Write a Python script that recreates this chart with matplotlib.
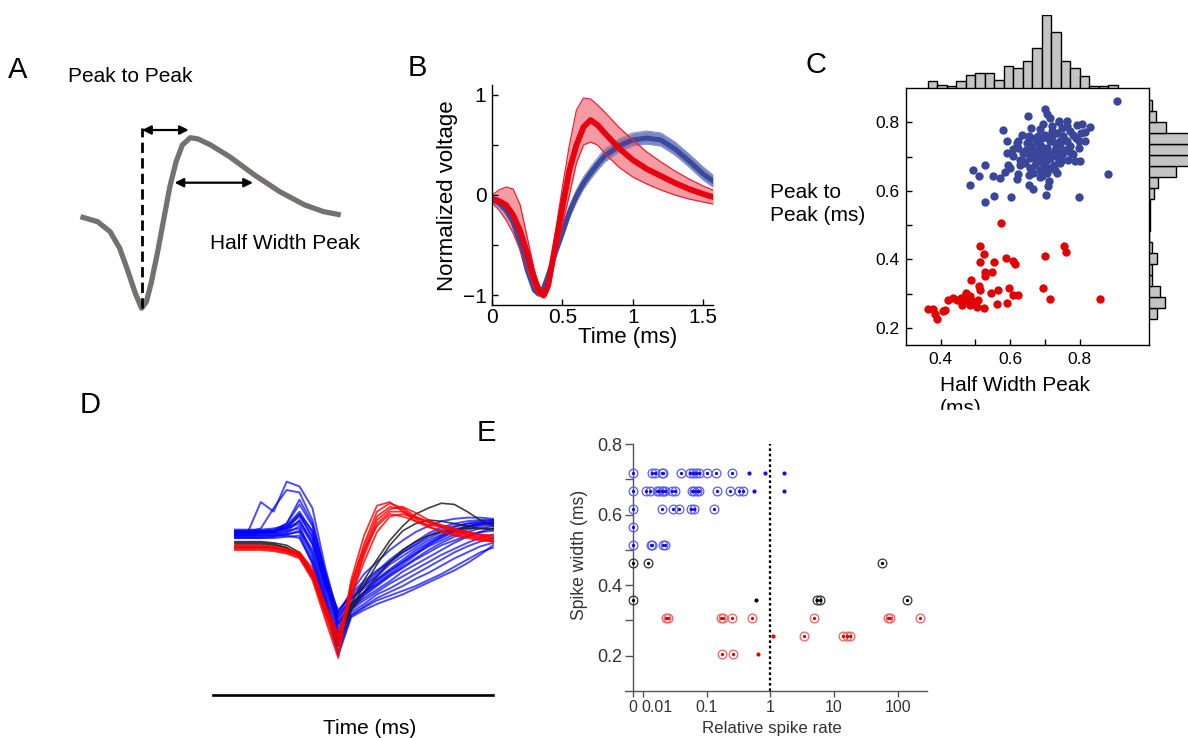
import numpy as np
import matplotlib
matplotlib.use("Agg")
import matplotlib.pyplot as plt
from matplotlib.patches import Rectangle
from matplotlib.lines import Line2D
from matplotlib.ticker import FixedLocator, NullLocator

plt.rcParams['font.family'] = ['Liberation Sans', 'DejaVu Sans']

# ---------------- data ----------------
# A: example waveform (time in ms, normalized voltage)
A_T = [0, 0.099, 0.171, 0.226, 0.271, 0.316, 0.352, 0.380, 0.407, 0.443, 0.479,
       0.515, 0.551, 0.587, 0.633, 0.678, 0.750, 0.859, 1.003, 1.148, 1.292, 1.401, 1.5]
A_V = [0, -0.055, -0.164, -0.345, -0.582, -0.836, -1.0, -0.928, -0.727, -0.400, -0.036,
       0.328, 0.600, 0.783, 0.862, 0.848, 0.783, 0.655, 0.455, 0.273, 0.128, 0.055, 0.019]
A_TROUGH_T = 0.352
A_PEAK_T = 0.624
A_HALF_V = 0.371
A_HALF_T = [0.542, 0.994]

# B: mean waveforms with spread (time in ms)
T_B = [0, .05, .10, .15, .20, .25, .30, .33, .35, .37, .40, .45, .50, .55, .60, .65,
       .70, .75, .80, .90, 1.0, 1.1, 1.2, 1.3, 1.4, 1.5, 1.57]
RED_M = [-0.04, -0.06, -0.10, -0.20, -0.36, -0.58, -0.84, -0.95, -0.98, -1.0, -0.90,
         -0.50, -0.12, 0.25, 0.50, 0.68, 0.75, 0.70, 0.62, 0.47, 0.35, 0.26, 0.19,
         0.12, 0.06, 0.01, -0.02]
RED_HI = [0.0, 0.05, 0.08, 0.06, -0.10, -0.42, -0.75, -0.88, -0.94, -0.96, -0.84,
          -0.38, 0.08, 0.50, 0.85, 0.97, 0.96, 0.90, 0.83, 0.68, 0.55, 0.43, 0.33,
          0.24, 0.16, 0.09, 0.05]
RED_LO = [-0.08, -0.15, -0.25, -0.38, -0.55, -0.74, -0.93, -1.0, -1.02, -1.03, -0.96,
          -0.62, -0.30, 0.0, 0.32, 0.50, 0.53, 0.50, 0.42, 0.28, 0.18, 0.11, 0.05,
          0.0, -0.04, -0.07, -0.09]
BLUE_M = [-0.04, -0.08, -0.15, -0.27, -0.48, -0.75, -0.95, -0.99, -0.97, -0.92, -0.80,
          -0.58, -0.38, -0.17, -0.01, 0.12, 0.22, 0.31, 0.39, 0.49, 0.55, 0.57, 0.55,
          0.46, 0.34, 0.21, 0.14]
BLUE_HI = [-0.01, -0.04, -0.10, -0.22, -0.44, -0.72, -0.93, -0.97, -0.95, -0.89, -0.76,
           -0.54, -0.33, -0.11, 0.05, 0.18, 0.28, 0.37, 0.46, 0.56, 0.62, 0.64, 0.62,
           0.53, 0.41, 0.28, 0.20]
BLUE_LO = [-0.07, -0.12, -0.20, -0.32, -0.52, -0.78, -0.97, -1.01, -0.99, -0.95, -0.84,
           -0.62, -0.43, -0.23, -0.07, 0.06, 0.16, 0.25, 0.33, 0.43, 0.49, 0.51, 0.49,
           0.40, 0.28, 0.15, 0.08]

# C: half width vs peak-to-peak (ms)
C_BLUE_X = [0.907, 0.700, 0.707, 0.651, 0.715, 0.741, 0.765, 0.792, 0.806, 0.830, 0.816,
            0.580, 0.660, 0.686, 0.720, 0.633, 0.653, 0.590, 0.624, 0.672, 0.700, 0.734,
            0.753, 0.782, 0.797, 0.816, 0.624, 0.648, 0.686, 0.715, 0.744, 0.773, 0.797,
            0.590, 0.607, 0.638, 0.667, 0.696, 0.729, 0.753, 0.782, 0.801, 0.609, 0.629,
            0.657, 0.686, 0.715, 0.739, 0.768, 0.787, 0.643, 0.672, 0.696, 0.725, 0.744,
            0.595, 0.600, 0.657, 0.686, 0.715, 0.734, 0.667, 0.691, 0.494, 0.528, 0.511,
            0.550, 0.571, 0.585, 0.624, 0.621, 0.686, 0.713, 0.710, 0.653, 0.667, 0.484,
            0.528, 0.554, 0.602, 0.703, 0.797, 0.881, 0.677, 0.705, 0.729, 0.763, 0.648,
            0.677, 0.710, 0.744, 0.763, 0.628, 0.700, 0.681, 0.662, 0.691, 0.720, 0.619,
            0.773, 0.749, 0.705, 0.653,
            0.690, 0.700, 0.720, 0.735, 0.705, 0.680, 0.660, 0.710, 0.745, 0.760, 0.775,
            0.790, 0.750, 0.730, 0.700, 0.675, 0.645, 0.655, 0.720, 0.680, 0.635, 0.805,
            0.765, 0.695, 0.740]
C_BLUE_Y = [0.863, 0.840, 0.824, 0.817, 0.811, 0.801, 0.805, 0.791, 0.795, 0.787, 0.771,
            0.778, 0.783, 0.781, 0.788, 0.764, 0.761, 0.745, 0.746, 0.754, 0.764, 0.769,
            0.759, 0.764, 0.745, 0.745, 0.725, 0.740, 0.735, 0.745, 0.735, 0.730, 0.725,
            0.710, 0.723, 0.710, 0.720, 0.715, 0.720, 0.710, 0.706, 0.688, 0.701, 0.691,
            0.696, 0.701, 0.696, 0.696, 0.691, 0.688, 0.681, 0.676, 0.681, 0.676, 0.681,
            0.676, 0.667, 0.667, 0.662, 0.667, 0.652, 0.652, 0.642, 0.662, 0.674, 0.643,
            0.643, 0.638, 0.655, 0.649, 0.633, 0.640, 0.630, 0.615, 0.618, 0.606, 0.616,
            0.567, 0.584, 0.581, 0.587, 0.581, 0.650, 0.745, 0.725, 0.740, 0.745, 0.710,
            0.706, 0.710, 0.710, 0.720, 0.676, 0.672, 0.686, 0.730, 0.754, 0.759, 0.740,
            0.774, 0.783, 0.652, 0.647,
            0.730, 0.700, 0.705, 0.725, 0.690, 0.715, 0.705, 0.755, 0.745, 0.720, 0.710,
            0.755, 0.690, 0.660, 0.655, 0.690, 0.720, 0.750, 0.775, 0.760, 0.690, 0.770,
            0.790, 0.795, 0.805]
C_RED_X = [0.574, 0.513, 0.756, 0.761, 0.525, 0.700, 0.587, 0.607, 0.614, 0.513, 0.554,
           0.548, 0.529, 0.528, 0.486, 0.510, 0.513, 0.564, 0.597, 0.544, 0.607, 0.624,
           0.695, 0.715, 0.860, 0.590, 0.563, 0.525, 0.473, 0.484, 0.458, 0.448, 0.461,
           0.420, 0.489, 0.499, 0.508, 0.504, 0.484, 0.412, 0.406, 0.364, 0.379, 0.384,
           0.390, 0.436, 0.475]
C_RED_Y = [0.507, 0.440, 0.439, 0.420, 0.415, 0.411, 0.404, 0.394, 0.386, 0.391, 0.391,
           0.364, 0.362, 0.352, 0.340, 0.321, 0.311, 0.311, 0.317, 0.301, 0.297, 0.297,
           0.317, 0.284, 0.284, 0.274, 0.269, 0.258, 0.301, 0.294, 0.287, 0.280, 0.267,
           0.280, 0.277, 0.272, 0.280, 0.262, 0.267, 0.253, 0.248, 0.255, 0.255, 0.241,
           0.227, 0.287, 0.282]
# marginal histograms
HALF_WIDTH_BIN_START, HALF_WIDTH_BIN = 0.3625, 0.02735
HALF_WIDTH_COUNTS = [4, 2, 1, 4, 8, 9, 9, 5, 13, 12, 16, 24, 44, 34, 16, 12, 7, 1, 1, 2]
P2P_BIN_START, P2P_BIN = 0.2265, 0.0319
P2P_COUNTS = [6, 12, 8, 2, 2, 6, 2, 0, 1, 1, 1, 4, 7, 20, 40, 44, 40, 13, 5, 2]

# D: individual waveforms (sample index, normalized)
D_SAMPLES = list(range(21))
D_BLUE = [
    [0.05, 0.05, 0.05, 0.06, 0.08, 0.12, -0.05, -0.40, -0.62, -0.45, -0.30, -0.20, -0.10, -0.02, 0.05, 0.10, 0.14, 0.16, 0.17, 0.17, 0.16],
    [0.04, 0.04, 0.05, 0.05, 0.10, 0.20, 0.00, -0.35, -0.68, -0.52, -0.40, -0.30, -0.20, -0.12, -0.05, 0.02, 0.07, 0.10, 0.12, 0.13, 0.13],
    [0.02, 0.02, 0.03, 0.04, 0.06, 0.08, -0.10, -0.45, -0.80, -0.60, -0.48, -0.40, -0.32, -0.25, -0.18, -0.12, -0.06, -0.02, 0.02, 0.05, 0.06],
    [0.00, 0.00, 0.00, 0.01, 0.02, 0.00, -0.20, -0.55, -0.95, -0.65, -0.58, -0.52, -0.48, -0.44, -0.40, -0.35, -0.30, -0.24, -0.18, -0.12, -0.08],
    [0.06, 0.06, 0.06, 0.07, 0.12, 0.28, 0.10, -0.30, -0.70, -0.55, -0.45, -0.38, -0.30, -0.22, -0.14, -0.06, 0.00, 0.05, 0.09, 0.12, 0.14],
    [0.03, 0.03, 0.04, 0.04, 0.05, 0.15, -0.05, -0.42, -0.75, -0.58, -0.50, -0.43, -0.36, -0.28, -0.22, -0.16, -0.10, -0.04, 0.01, 0.05, 0.08],
    [0.05, 0.05, 0.30, 0.22, 0.47, 0.43, 0.25, -0.25, -0.65, -0.50, -0.40, -0.32, -0.22, -0.15, -0.08, -0.02, 0.03, 0.07, 0.10, 0.12, 0.13],
    [0.04, 0.05, 0.08, 0.25, 0.40, 0.38, 0.15, -0.30, -0.72, -0.55, -0.45, -0.35, -0.27, -0.20, -0.12, -0.05, 0.01, 0.06, 0.10, 0.12, 0.12],
    [0.02, 0.02, 0.02, 0.03, 0.04, 0.10, -0.15, -0.50, -0.88, -0.62, -0.55, -0.47, -0.42, -0.36, -0.30, -0.24, -0.18, -0.12, -0.07, -0.03, 0.00],
    [0.07, 0.07, 0.07, 0.08, 0.10, 0.22, 0.05, -0.35, -0.60, -0.48, -0.38, -0.28, -0.18, -0.10, -0.03, 0.04, 0.09, 0.12, 0.14, 0.15, 0.15],
    [0.01, 0.01, 0.01, 0.02, 0.03, 0.05, -0.18, -0.52, -0.90, -0.64, -0.57, -0.50, -0.45, -0.40, -0.34, -0.29, -0.23, -0.17, -0.12, -0.07, -0.04],
    [0.05, 0.05, 0.05, 0.06, 0.09, 0.18, 0.02, -0.38, -0.66, -0.50, -0.42, -0.34, -0.26, -0.18, -0.10, -0.04, 0.02, 0.06, 0.09, 0.11, 0.12],
    [0.03, 0.03, 0.04, 0.05, 0.12, 0.32, 0.12, -0.28, -0.63, -0.46, -0.36, -0.27, -0.20, -0.12, -0.06, 0.00, 0.05, 0.09, 0.12, 0.14, 0.15],
    [0.02, 0.02, 0.02, 0.02, 0.03, 0.06, -0.12, -0.48, -0.84, -0.60, -0.52, -0.45, -0.38, -0.32, -0.26, -0.20, -0.14, -0.09, -0.04, 0.00, 0.03],
    [0.06, 0.06, 0.06, 0.06, 0.08, 0.14, -0.02, -0.40, -0.72, -0.56, -0.47, -0.39, -0.31, -0.24, -0.17, -0.10, -0.04, 0.01, 0.05, 0.08, 0.10],
    [0.04, 0.04, 0.04, 0.05, 0.07, 0.20, 0.06, -0.33, -0.78, -0.58, -0.46, -0.36, -0.28, -0.20, -0.13, -0.07, -0.02, 0.03, 0.07, 0.10, 0.11],
    [0.00, 0.00, 0.00, 0.00, 0.01, 0.02, -0.22, -0.56, -0.98, -0.66, -0.60, -0.55, -0.51, -0.47, -0.42, -0.37, -0.32, -0.27, -0.21, -0.14, -0.06],
]
D_BLACK = [
    [-0.04, -0.04, -0.04, -0.05, -0.08, -0.14, -0.30, -0.60, -0.85, -0.55, -0.35, -0.18, -0.02, 0.10, 0.20, 0.25, 0.29, 0.28, 0.22, 0.15, 0.10],
    [-0.03, -0.03, -0.03, -0.04, -0.06, -0.12, -0.28, -0.55, -0.80, -0.58, -0.40, -0.22, -0.06, 0.06, 0.12, 0.15, 0.14, 0.12, 0.10, 0.08, 0.07],
    [-0.05, -0.05, -0.05, -0.06, -0.08, -0.15, -0.32, -0.62, -0.90, -0.60, -0.45, -0.32, -0.20, -0.10, -0.03, 0.02, 0.05, 0.07, 0.08, 0.08, 0.08],
]
D_RED = [
    [-0.08, -0.08, -0.08, -0.09, -0.11, -0.14, -0.30, -0.60, -0.90, -0.40, -0.05, 0.22, 0.29, 0.25, 0.18, 0.13, 0.10, 0.07, 0.04, 0.02, 0.00],
    [-0.07, -0.07, -0.07, -0.08, -0.10, -0.13, -0.28, -0.58, -0.85, -0.45, -0.15, 0.12, 0.22, 0.22, 0.17, 0.13, 0.10, 0.06, 0.03, 0.01, -0.01],
    [-0.09, -0.09, -0.09, -0.10, -0.12, -0.16, -0.33, -0.65, -0.96, -0.35, 0.02, 0.27, 0.30, 0.22, 0.14, 0.09, 0.06, 0.03, 0.01, -0.01, -0.03],
    [-0.06, -0.06, -0.06, -0.07, -0.09, -0.12, -0.25, -0.55, -0.80, -0.48, -0.20, 0.05, 0.18, 0.20, 0.17, 0.14, 0.11, 0.08, 0.05, 0.03, 0.01],
    [-0.10, -0.10, -0.10, -0.11, -0.13, -0.17, -0.35, -0.68, -1.00, -0.38, -0.08, 0.18, 0.26, 0.24, 0.16, 0.10, 0.05, 0.02, 0.00, -0.02, -0.03],
    [-0.08, -0.08, -0.08, -0.08, -0.10, -0.14, -0.31, -0.62, -0.88, -0.50, -0.12, 0.15, 0.24, 0.26, 0.21, 0.15, 0.09, 0.05, 0.02, 0.00, -0.02],
    [-0.07, -0.07, -0.07, -0.08, -0.11, -0.15, -0.29, -0.58, -0.82, -0.42, -0.10, 0.10, 0.20, 0.18, 0.14, 0.11, 0.09, 0.07, 0.05, 0.03, 0.02],
]

# E: spike width (ms) vs relative spike rate; 0 = no spikes
E_BLUE_RINGS = {0.718: [0, 0.0137, 0.0154, 0.0196, 0.0208, 0.0395, 0.0547, 0.0603, 0.0679, 0.0748, 0.102, 0.140, 0.247],
                0.667: [0, 0.0111, 0.0129, 0.0164, 0.0181, 0.0196, 0.0208, 0.0222, 0.0282, 0.0318, 0.0581, 0.0632, 0.0697, 0.0748, 0.1435, 0.232, 0.322, 0.377],
                0.615: [0, 0.0196, 0.0299, 0.0372, 0.0561, 0.0625, 0.130],
                0.564: [0],
                0.513: [0, 0.0132, 0.0139, 0.0208, 0.0224]}
E_BLUE_DOTS = {0.718: [0.468, 0.834, 1.66], 0.667: [0.561, 1.66]}
E_BLACK_RINGS = {0.462: [0, 0.0121, 56.1], 0.359: [0, 5.35, 6.03, 142]}
E_BLACK_DOTS = {0.359: [0.589]}
E_RED_RINGS = {0.308: [0.0229, 0.0247, 0.170, 0.183, 0.253, 0.509, 4.91, 69.7, 75.9, 224],
               0.256: [3.38, 13.7, 15.8, 17.8],
               0.205: [0.176, 0.262]}
E_RED_DOTS = {0.256: [1.09], 0.205: [0.632]}
E_ZERO_POS = 10 ** -2.157   # where rate 0 sits on the broken log axis
E_XTICKS = [0.01, 0.1, 1, 10, 100]
E_XTICKLABELS = ['0.01', '0.1', '1', '10', '100']

# ---------------- figure ----------------
W, H = 1188, 738
fig = plt.figure(figsize=(W / 100, H / 100), dpi=100)


def box(x0, y0, x1, y1):
    return fig.add_axes([x0 / W, 1 - y1 / H, (x1 - x0) / W, (y1 - y0) / H])


def ftext(x, y, s, **kw):
    return fig.text(x / W, 1 - y / H, s, **kw)


# ---- A ----
axA = box(60, 115, 380, 320)
axA.set_xlim(-0.118, 1.726)
axA.set_ylim(-1.128, 1.110)
axA.axis('off')
axA.plot(A_T, A_V, color='#767171', lw=3.8, solid_joinstyle='round', solid_capstyle='butt')
axA.plot([A_TROUGH_T, A_TROUGH_T], [min(A_V), 0.965], color='k', lw=2.0, ls=(0, (3.7, 1.9)))
arrow = dict(arrowstyle='<|-|>', color='k', lw=1.6, mutation_scale=13, shrinkA=0, shrinkB=0)
axA.annotate('', xy=(A_PEAK_T, 0.946), xytext=(A_TROUGH_T + 0.003, 0.946), arrowprops=arrow)
axA.annotate('', xy=(A_HALF_T[1], A_HALF_V), xytext=(A_HALF_T[0], A_HALF_V), arrowprops=arrow)
ftext(8, 70, 'A', fontsize=21, va='center', ha='left')
ftext(68, 77, 'Peak to Peak', fontsize=15, va='center', ha='left')
ftext(210, 243, 'Half Width Peak', fontsize=15, va='center', ha='left')

# ---- B ----
axB = box(492, 85, 713, 305)
axB.set_xlim(0, 1.57)
axB.set_ylim(-1.1, 1.1)
axB.fill_between(T_B, BLUE_LO, BLUE_HI, color='#6f7bbd', lw=0, alpha=0.9)
axB.plot(T_B, BLUE_LO, color='#8690cc', lw=0.8)
axB.plot(T_B, BLUE_HI, color='#8690cc', lw=0.8)
axB.plot(T_B, BLUE_M, color='#3a4a9e', lw=3.6, solid_joinstyle='round')
axB.fill_between(T_B, RED_LO, RED_HI, color='#ee4a5a', lw=0, alpha=0.55)
axB.plot(T_B, RED_LO, color='#ee2030', lw=0.9)
axB.plot(T_B, RED_HI, color='#ee2030', lw=0.9)
axB.plot(T_B, RED_M, color='#e8000f', lw=4.2, solid_joinstyle='round')
for s in ('top', 'right'):
    axB.spines[s].set_visible(False)
for s in ('left', 'bottom'):
    axB.spines[s].set_linewidth(1.0)
axB.set_xticks([0, 0.5, 1, 1.5])
axB.set_xticklabels(['0', '0.5', '1', '1.5'])
axB.set_yticks([-1, 0, 1])
axB.set_yticklabels(['\u22121', '0', '1'])
axB.yaxis.set_minor_locator(FixedLocator([-0.5, 0.5]))
axB.tick_params(which='both', direction='in', length=4, width=1, labelsize=15)
axB.tick_params(axis='x', pad=2)
axB.tick_params(axis='y', pad=4)
ftext(628, 337, 'Time (ms)', fontsize=16, ha='center', va='center')
ftext(447, 196, 'Normalized voltage', fontsize=16, ha='center', va='center', rotation=90)
ftext(408, 68, 'B', fontsize=21, va='center', ha='left')

# ---- C ----
axC = box(906, 88, 1149, 345)
axC.set_xlim(0.3, 1.0)
axC.set_ylim(0.15, 0.9)
axC.scatter(C_BLUE_X, C_BLUE_Y, s=36, color='#39469a', lw=0, zorder=3)
axC.scatter(C_RED_X, C_RED_Y, s=36, color='#e30000', lw=0, zorder=3)
axC.set_xticks([0.4, 0.6, 0.8])
axC.set_xticklabels(['0.4', '0.6', '0.8'])
axC.set_yticks([0.2, 0.4, 0.6, 0.8])
axC.set_yticklabels(['0.2', '0.4', '0.6', '0.8'])
axC.xaxis.set_minor_locator(FixedLocator([0.5, 0.7]))
axC.yaxis.set_minor_locator(FixedLocator([0.3, 0.5, 0.7]))
axC.tick_params(which='both', direction='in', length=4, width=1, labelsize=12.5, pad=5)
for s in axC.spines.values():
    s.set_linewidth(1.0)

axCt = box(906, 15, 1149, 88)
axCt.set_xlim(0.3, 1.0)
axCt.set_ylim(0, 44)
axCt.axis('off')
lefts = [HALF_WIDTH_BIN_START + i * HALF_WIDTH_BIN for i in range(len(HALF_WIDTH_COUNTS))]
axCt.bar(lefts, HALF_WIDTH_COUNTS, width=HALF_WIDTH_BIN, align='edge',
         color='#c4c4c4', edgecolor='k', lw=1.0)

axCr = box(1149, 88, 1209, 345)
axCr.set_ylim(0.15, 0.9)
axCr.set_xlim(0, 45)
axCr.axis('off')
bottoms = [P2P_BIN_START + i * P2P_BIN for i in range(len(P2P_COUNTS))]
axCr.barh(bottoms, P2P_COUNTS, height=P2P_BIN, align='edge',
          color='#c4c4c4', edgecolor='k', lw=1.0)

ftext(805, 65, 'C', fontsize=21, va='center', ha='left')
ftext(770, 204, 'Peak to\nPeak (ms)', fontsize=15, va='center', ha='left', linespacing=1.3)
ftext(940, 376, 'Half Width Peak\n(ms)', fontsize=15, va='top', ha='left', linespacing=1.3)
fig.patches.append(Rectangle((900 / W, 1 - 438 / H), 288 / W, 28 / H,
                             transform=fig.transFigure, color='white', zorder=10))

# ---- D ----
axD = box(225, 470, 500, 670)
axD.set_xlim(-0.775, 20.54)
axD.set_ylim(-1.1, 0.567)
axD.axis('off')
for tr in D_BLUE:
    axD.plot(D_SAMPLES, tr, color=(0.0, 0.0, 1.0), lw=1.4, alpha=0.7)
for tr in D_BLACK:
    axD.plot(D_SAMPLES, tr, color='#202020', lw=1.2, alpha=0.85)
for tr in D_RED:
    axD.plot(D_SAMPLES, tr, color=(1.0, 0.0, 0.0), lw=1.3, alpha=0.8)
fig.add_artist(Line2D([213 / W, 493 / W], [1 - 695 / H, 1 - 695 / H], color='k', lw=1.9))
ftext(370, 719, 'Time (ms)', fontsize=15, ha='center', va='top')
ftext(80, 405, 'D', fontsize=21, va='center', ha='left')

# ---- E ----
axE = box(625, 444, 927, 691)
axE.set_xscale('log')
axE.set_xlim(10 ** -2.283, 10 ** 2.46)
axE.set_ylim(0.1, 0.8)
gray = '#555555'
for s in ('top', 'right'):
    axE.spines[s].set_visible(False)
axE.spines['left'].set_position(('data', E_ZERO_POS))
axE.spines['left'].set_bounds(0.1, 0.8)
for s in ('left', 'bottom'):
    axE.spines[s].set_color(gray)
    axE.spines[s].set_linewidth(1.0)
axE.axvline(1, ymin=0, ymax=1, color='k', lw=1.6, ls=(0, (1.2, 1.2)))


def zero_shift(rates):
    return [E_ZERO_POS if r == 0 else r for r in rates]


def rings(groups, ring_col, dot_col):
    for w, rates in groups.items():
        xs = zero_shift(rates)
        ys = [w] * len(xs)
        axE.plot(xs, ys, ls='none', marker='o', ms=6.3, mfc='none', mec=ring_col, mew=0.9, zorder=3)
        axE.plot(xs, ys, ls='none', marker='o', ms=2.4, mfc=dot_col, mec='none', zorder=4)


def dots(groups, dot_col):
    for w, rates in groups.items():
        axE.plot(zero_shift(rates), [w] * len(rates), ls='none', marker='o', ms=3.0,
                 mfc=dot_col, mec='none', zorder=4)


rings(E_BLUE_RINGS, '#5c5cf5', '#1010ee')
dots(E_BLUE_DOTS, '#1010ee')
rings(E_BLACK_RINGS, '#333333', '#000000')
dots(E_BLACK_DOTS, '#000000')
rings(E_RED_RINGS, '#f06464', '#e00000')
dots(E_RED_DOTS, '#e00000')

axE.xaxis.set_major_locator(FixedLocator([E_ZERO_POS] + E_XTICKS))
axE.set_xticklabels(['0', ''] + E_XTICKLABELS[1:])
axE.xaxis.set_minor_locator(NullLocator())
axE.annotate(E_XTICKLABELS[0], xy=(0.01, 0), xycoords=('data', 'axes fraction'),
             xytext=(-1, -6.5), textcoords='offset points', ha='left', va='top',
             fontsize=11.5, color='#333333')
axE.set_yticks([0.2, 0.4, 0.6, 0.8])
axE.set_yticklabels(['0.2', '0.4', '0.6', '0.8'])
axE.yaxis.set_minor_locator(FixedLocator([0.3, 0.5, 0.7]))
axE.tick_params(axis='y', which='both', direction='out', length=6, width=1, color=gray,
                labelsize=13, labelcolor='#333333', pad=2)
axE.tick_params(axis='x', which='both', direction='out', length=4, width=1, color=gray,
                labelsize=11.5, labelcolor='#333333', pad=2.5)
ftext(772, 729, 'Relative spike rate', fontsize=12.2, ha='center', va='center', color='#333333')
ftext(580, 555, 'Spike width (ms)', fontsize=12.7, ha='center', va='center', rotation=90,
      color='#333333')
ftext(477, 433, 'E', fontsize=21, va='center', ha='left')

fig.savefig('out.png', dpi=100)
